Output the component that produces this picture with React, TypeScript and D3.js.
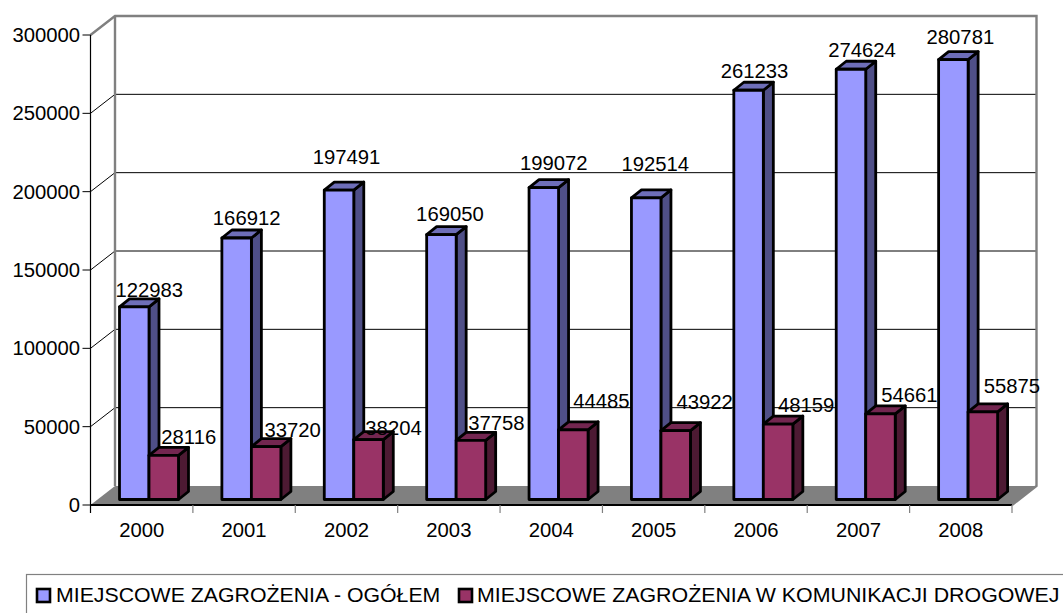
import React from "react";
import * as d3 from "d3";

const years = ["2000","2001","2002","2003","2004","2005","2006","2007","2008"];
const totalValues = [122983,166912,197491,169050,199072,192514,261233,274624,280781];
const roadValues = [28116,33720,38204,37758,44485,43922,48159,54661,55875];
const yTicks = [0,50000,100000,150000,200000,250000,300000];
const seriesNames = ["MIEJSCOWE ZAGROŻENIA - OGÓŁEM","MIEJSCOWE ZAGROŻENIA W KOMUNIKACJI DROGOWEJ"];

// hand-placed label offsets, as in the source chart
const totalLabelDx = [15,10,7.5,8.5,10,9,6,11,7];
const totalLabelDy = [-10,-13,-26,-13.5,-17.5,-27,-12.5,-12.5,-16];
const roadLabelDx = [25,26.5,25,25.5,28,29,28,29,29];
const roadLabelDy = [-11,-10,-5,-10,-22,-21.5,-12,-12,-18.5];

const W = 1063, H = 613;
const x0 = 90.5, x1 = 1012, y0 = 505, yTop = 35;
const wallDx = 24.5, wallDy = -19;
const barLift = -5.5, barW = 29.5, barOffset = 29, depthX = 10, depthY = -8;
const FONT = "'Liberation Sans', Arial, sans-serif";

const y = d3.scaleLinear().domain([0,300000]).range([y0,yTop]);
const x = d3.scaleBand().domain(years).range([x0,x1]);

const T = ({x: tx, y: ty, anchor = "middle", size = 19.5, sx = 1.04, children}: any) => (
  <text transform={`translate(${tx},${ty}) scale(${sx},1)`} textAnchor={anchor} fontSize={size} fontFamily={FONT} fill="#000">{children}</text>
);

const poly = (pts: number[][]) => pts.map(p => p.join(",")).join(" ");

const Bar = ({left, value, front, top, side}: any) => {
  const yb = y(0) + barLift, yt = y(value) + barLift, r = left + barW;
  return (
    <g stroke="#000" strokeWidth={2.8} strokeLinejoin="round">
      <polygon points={poly([[r,yt],[r+depthX,yt+depthY],[r+depthX,yb+depthY],[r,yb]])} fill={side} />
      <polygon points={poly([[left,yt],[left+depthX,yt+depthY],[r+depthX,yt+depthY],[r,yt]])} fill={top} />
      <rect x={left} y={yt} width={barW} height={yb-yt} fill={front} />
    </g>
  );
};

export default function App() {
  return (
    <svg width={W} height={H} viewBox={`0 0 ${W} ${H}`} style={{position:"absolute",left:0,top:0,background:"#fff"}}>
      {/* floor */}
      <polygon points={poly([[x0,y0],[x0+wallDx,y0+wallDy],[x1+wallDx,y0+wallDy],[x1,y0]])} fill="#808080" />
      {/* back gridlines and side-wall links */}
      {yTicks.slice(1,-1).map(t => (
        <g key={t} stroke="#000" strokeWidth={1}>
          <line x1={x0} y1={y(t)} x2={x0+wallDx} y2={y(t)+wallDy} />
          <line x1={x0+wallDx} y1={y(t)+wallDy} x2={x1+wallDx} y2={y(t)+wallDy} />
        </g>
      ))}
      {/* walls */}
      <path d={`M${x0},${yTop} L${x0+wallDx},${yTop+wallDy} L${x1+wallDx},${yTop+wallDy} L${x1+wallDx},${y0+wallDy} L${x1},${y0}`} fill="none" stroke="#808080" strokeWidth={2.4} />
      <line x1={x0+wallDx} y1={yTop+wallDy} x2={x0+wallDx} y2={y0+wallDy} stroke="#808080" strokeWidth={2.4} />
      {/* axes */}
      <g stroke="#000" strokeWidth={1.2}>
        <line x1={x0} y1={yTop} x2={x0} y2={y0+8} />
        <line x1={x0} y1={y0} x2={x1} y2={y0} strokeWidth={2} />
      </g>
      {yTicks.map(t => (
        <g key={t}>
          <line x1={x0-8} y1={y(t)} x2={x0} y2={y(t)} stroke="#000" strokeWidth={1} />
          <T x={80} y={y(t)+7} anchor="end">{t}</T>
        </g>
      ))}
      {years.map(c => (
        <line key={c} x1={x(c)!+x.bandwidth()} y1={y0} x2={x(c)!+x.bandwidth()} y2={y0+8} stroke="#808080" strokeWidth={1.2} />
      ))}
      {years.map(c => <T key={c} x={x(c)!+x.bandwidth()/2} y={537}>{c}</T>)}
      {/* bars */}
      {years.map((c,i) => (
        <g key={c}>
          <Bar left={x(c)!+barOffset} value={totalValues[i]} front="#9999FF" top="#6E6EB8" side="#4F4F87" />
          <Bar left={x(c)!+barOffset+barW} value={roadValues[i]} front="#993366" top="#732650" side="#4D1A33" />
        </g>
      ))}
      {/* value labels */}
      {years.map((c,i) => (
        <g key={c}>
          <T x={x(c)!+barOffset+barW/2+totalLabelDx[i]} y={y(totalValues[i])+barLift+totalLabelDy[i]}>{totalValues[i]}</T>
          <T x={x(c)!+barOffset+barW*1.5+roadLabelDx[i]} y={y(roadValues[i])+barLift+roadLabelDy[i]}>{roadValues[i]}</T>
        </g>
      ))}
      {/* legend */}
      <rect x={26.5} y={574.5} width={1060} height={60} fill="none" stroke="#808080" strokeWidth={1.2} />
      <rect x={37} y={589} width={13} height={13} fill="#9999FF" stroke="#000" strokeWidth={2.6} />
      <T x={56} y={602} anchor="start" sx={1.092}>{seriesNames[0]}</T>
      <rect x={459} y={589} width={13} height={13} fill="#993366" stroke="#000" strokeWidth={2.6} />
      <T x={477} y={602} anchor="start" sx={1.096}>{seriesNames[1]}</T>
    </svg>
  );
}
